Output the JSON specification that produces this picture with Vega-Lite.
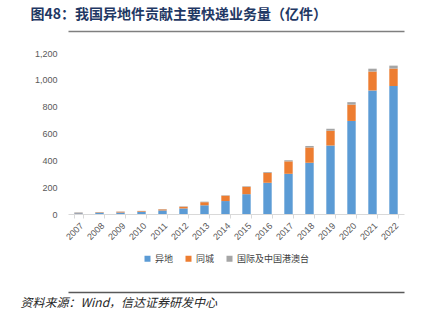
{
  "$schema": "https://vega.github.io/schema/vega-lite/v6.json",
  "width": 336,
  "height": 161,
  "autosize": {"type": "none"},
  "padding": {"left": 68, "top": 53, "right": 26, "bottom": 109},
  "background": "white",
  "config": {"view": {"stroke": null}, "font": "Liberation Sans"},
  "data": {"values": [
    {"year": "2007", "type": "异地", "value": 5.5}, {"year": "2007", "type": "同城", "value": 2.5}, {"year": "2007", "type": "国际及中国港澳台", "value": 4.0},
    {"year": "2008", "type": "异地", "value": 7.5}, {"year": "2008", "type": "同城", "value": 3.5}, {"year": "2008", "type": "国际及中国港澳台", "value": 4.1},
    {"year": "2009", "type": "异地", "value": 10.5}, {"year": "2009", "type": "同城", "value": 5.5}, {"year": "2009", "type": "国际及中国港澳台", "value": 2.6},
    {"year": "2010", "type": "异地", "value": 16.1}, {"year": "2010", "type": "同城", "value": 5.2}, {"year": "2010", "type": "国际及中国港澳台", "value": 2.1},
    {"year": "2011", "type": "异地", "value": 26.5}, {"year": "2011", "type": "同城", "value": 8.0}, {"year": "2011", "type": "国际及中国港澳台", "value": 2.2},
    {"year": "2012", "type": "异地", "value": 41.4}, {"year": "2012", "type": "同城", "value": 12.8}, {"year": "2012", "type": "国际及中国港澳台", "value": 2.7},
    {"year": "2013", "type": "异地", "value": 65.0}, {"year": "2013", "type": "同城", "value": 23.0}, {"year": "2013", "type": "国际及中国港澳台", "value": 3.9},
    {"year": "2014", "type": "异地", "value": 96.5}, {"year": "2014", "type": "同城", "value": 39.8}, {"year": "2014", "type": "国际及中国港澳台", "value": 3.3},
    {"year": "2015", "type": "异地", "value": 147.8}, {"year": "2015", "type": "同城", "value": 54.7}, {"year": "2015", "type": "国际及中国港澳台", "value": 4.2},
    {"year": "2016", "type": "异地", "value": 232.7}, {"year": "2016", "type": "同城", "value": 74.1}, {"year": "2016", "type": "国际及中国港澳台", "value": 6.0},
    {"year": "2017", "type": "异地", "value": 299.6}, {"year": "2017", "type": "同城", "value": 92.7}, {"year": "2017", "type": "国际及中国港澳台", "value": 8.3},
    {"year": "2018", "type": "异地", "value": 381.9}, {"year": "2018", "type": "同城", "value": 114.1}, {"year": "2018", "type": "国际及中国港澳台", "value": 11.1},
    {"year": "2019", "type": "异地", "value": 510.5}, {"year": "2019", "type": "同城", "value": 110.4}, {"year": "2019", "type": "国际及中国港澳台", "value": 14.4},
    {"year": "2020", "type": "异地", "value": 693.6}, {"year": "2020", "type": "同城", "value": 121.7}, {"year": "2020", "type": "国际及中国港澳台", "value": 18.4},
    {"year": "2021", "type": "异地", "value": 920.8}, {"year": "2021", "type": "同城", "value": 141.1}, {"year": "2021", "type": "国际及中国港澳台", "value": 21.1},
    {"year": "2022", "type": "异地", "value": 954.0}, {"year": "2022", "type": "同城", "value": 130.0}, {"year": "2022", "type": "国际及中国港澳台", "value": 21.8}
  ]},
  "resolve": {"axis": {"x": "independent"}},
  "layer": [
    {
      "transform": [
        {"calculate": "indexof(['异地', '同城', '国际及中国港澳台'], datum.type)", "as": "stackOrder"}
      ],
      "mark": {"type": "bar"},
      "encoding": {
        "x": {
          "field": "year", "type": "ordinal",
          "scale": {"paddingInner": 0.6, "paddingOuter": 0.3},
          "axis": {
            "title": null, "labelAngle": -45, "labelFontSize": 9, "labelColor": "#595959",
            "domainColor": "#d9d9d9", "tickColor": "#d9d9d9", "tickSize": 4, "tickBand": "extent",
            "labelPadding": 3
          }
        },
        "y": {
          "field": "value", "type": "quantitative", "stack": "zero",
          "scale": {"domain": [0, 1200], "nice": false},
          "axis": {
            "title": null, "values": [0, 200, 400, 600, 800, 1000, 1200], "format": ",.0f",
            "domain": false, "ticks": false, "grid": false, "labelFontSize": 9,
            "labelColor": "#595959", "labelPadding": 11
          }
        },
        "order": {"field": "stackOrder", "type": "quantitative", "sort": "ascending"},
        "color": {
          "field": "type", "type": "nominal",
          "sort": ["异地", "同城", "国际及中国港澳台"],
          "scale": {"domain": ["异地", "同城", "国际及中国港澳台"], "range": ["#5B9BD5", "#ED7D31", "#A5A5A5"]},
          "legend": {
            "title": null, "orient": "none", "direction": "horizontal",
            "legendX": 75, "legendY": 201, "padding": 0,
            "symbolType": "square", "symbolSize": 36, "symbolStrokeWidth": 0,
            "labelFontSize": 9, "labelColor": "#404040", "labelOffset": 3,
            "columnPadding": 10, "labelFont": "Noto Sans CJK SC"
          }
        }
      }
    },
    {
      "mark": {"type": "rule", "opacity": 0},
      "encoding": {
        "x": {
          "field": "year", "type": "ordinal",
          "axis": {
            "orient": "top", "offset": 22, "labels": false, "ticks": false,
            "domainColor": "#7f7f7f", "domainWidth": 1.5,
            "title": "图48：我国异地件贡献主要快递业务量（亿件）",
            "titleFont": "Noto Sans CJK SC", "titleFontSize": 14, "titleFontWeight": "bold",
            "titleColor": "#1f3864", "titleAlign": "left", "titleBaseline": "middle",
            "titleAnchor": null, "titleX": -38, "titleY": -17
          }
        }
      }
    },
    {
      "mark": {"type": "rule", "opacity": 0},
      "encoding": {
        "x": {
          "field": "year", "type": "ordinal",
          "axis": {
            "orient": "bottom", "offset": 78, "labels": false, "ticks": false,
            "domainColor": "#595959", "domainWidth": 1.5,
            "title": "资料来源：Wind，信达证券研发中心",
            "titleFont": "Noto Sans CJK SC", "titleFontSize": 12, "titleFontWeight": "normal",
            "titleFontStyle": "italic", "titleColor": "#262626", "titleAlign": "left",
            "titleBaseline": "middle", "titleAnchor": null, "titleX": -48, "titleY": 10
          }
        }
      }
    }
  ]
}
